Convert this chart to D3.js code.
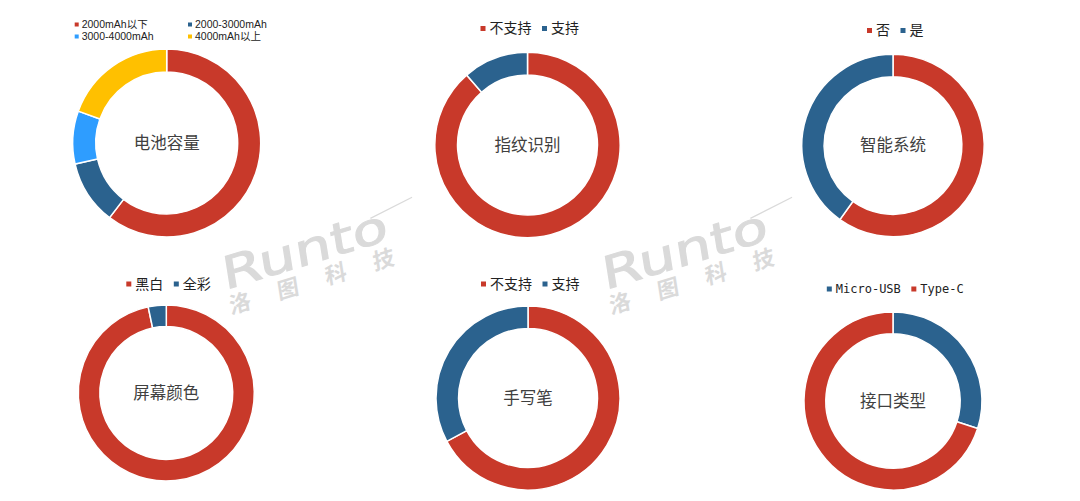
<!DOCTYPE html>
<html><head><meta charset="utf-8">
<script src="https://cdn.jsdelivr.net/npm/d3@7/dist/d3.min.js"></script>
<style>
html,body{margin:0;padding:0;background:#fff;}
svg{display:block;}
</style></head>
<body>
<svg id="c" width="1080" height="501"></svg>
<script>
// ---- data ----
const titles = ["电池容量","指纹识别","智能系统","屏幕颜色","手写笔","接口类型"];
const batteryLabels = ["2000mAh以下","2000-3000mAh","3000-4000mAh","4000mAh以上"];
const batteryValues = [60.4, 11.0, 9.1, 19.5];
const fingerprintLabels = ["不支持","支持"];
const fingerprintValues = [88.6, 11.4];
const smartLabels = ["否","是"];
const smartValues = [59.9, 40.1];
const screenLabels = ["黑白","全彩"];
const screenValues = [96.7, 3.3];
const stylusLabels = ["不支持","支持"];
const stylusValues = [67.2, 32.8];
const portLabels = ["Micro-USB","Type-C"];
const portValues = [30.0, 70.0];

// ---- styles / layout ----
const RED="#C8392A", DBLUE="#2B628E", LBLUE="#2E9DFF", YELLOW="#FFC000";
const charts = [
  {title:titles[0], labels:batteryLabels, values:batteryValues, colors:[RED,DBLUE,LBLUE,YELLOW], cx:166.7, cy:143, r:94, grid:true, ly:24.5},
  {title:titles[1], labels:fingerprintLabels, values:fingerprintValues, colors:[RED,DBLUE], cx:527.5, cy:145, r:92.7, ly:28.5},
  {title:titles[2], labels:smartLabels, values:smartValues, colors:[RED,DBLUE], cx:893, cy:145.5, r:91.2, ly:30.5},
  {title:titles[3], labels:screenLabels, values:screenValues, colors:[RED,DBLUE], cx:166.3, cy:393, r:88, ly:284},
  {title:titles[4], labels:stylusLabels, values:stylusValues, colors:[RED,DBLUE], cx:528, cy:398, r:92, ly:284},
  {title:titles[5], labels:portLabels, values:portValues, colors:[DBLUE,RED], cx:893, cy:401, r:89, ly:289, mono:true}
];
const CJK = "'Noto Sans CJK SC','Microsoft YaHei',sans-serif";

const svg = d3.select("#c");

// ---- watermark ----
function watermark(x, y){
  const g = svg.append("g").attr("transform",`translate(${x},${y}) rotate(-17)`).attr("fill","#dadada");
  g.append("text").text("Runto").attr("x",0).attr("y",0)
    .attr("font-family","'DejaVu Sans',sans-serif").attr("font-size",44).attr("font-weight",400)
    .attr("stroke","#dadada").attr("stroke-width",1)
    .attr("textLength",172).attr("lengthAdjust","spacingAndGlyphs")
    .attr("transform","skewX(-8)");
  g.append("line").attr("x1",160).attr("y1",-26).attr("x2",206).attr("y2",-34)
    .attr("stroke","#dadada").attr("stroke-width",1.2);
  ["洛","图","科","技"].forEach((ch,i)=>{
    g.append("text").text(ch).attr("x",2+i*50).attr("y",25)
      .attr("font-family",CJK).attr("font-size",22).attr("font-weight",700)
      .attr("transform",`skewX(-8)`);
  });
}
watermark(225,290);
watermark(605,290);

// ---- donuts ----
const pie = d3.pie().sort(null).value(d=>d);
charts.forEach(c=>{
  const g = svg.append("g").attr("transform",`translate(${c.cx},${c.cy})`);
  const arc = d3.arc().outerRadius(c.r).innerRadius(c.r*0.755);
  g.selectAll("path").data(pie(c.values)).join("path")
    .attr("d",arc).attr("fill",(d,i)=>c.colors[i])
    .attr("stroke","#fff").attr("stroke-width",1.5);
  g.append("text").text(c.title).attr("text-anchor","middle").attr("dy","0.35em")
    .attr("font-family",CJK).attr("font-size",16.5).attr("fill","#404040");

  // legend
  const lg = svg.append("g");
  if(c.grid){
    const cols=[c.cx-90, c.cx+23.3], rows=[c.ly, c.ly+12];
    c.labels.forEach((lab,i)=>{
      const mx=cols[i%2], my=rows[Math.floor(i/2)];
      lg.append("rect").attr("x",mx-2).attr("y",my-2).attr("width",4).attr("height",4).attr("fill",c.colors[i]);
      lg.append("text").text(lab).attr("x",mx+5).attr("y",my).attr("dy","0.35em")
        .attr("font-family","'Liberation Sans','Noto Sans CJK SC',sans-serif").attr("font-size",10.5).attr("fill","#222");
    });
  } else {
    const items=[]; let x=0;
    c.labels.forEach((lab,i)=>{
      const t = lg.append("text").text(lab).attr("y",c.ly).attr("dy","0.35em")
        .attr("font-family", c.mono ? "'DejaVu Sans Mono',monospace" : CJK)
        .attr("font-size", c.mono ? 12 : 14).attr("fill","#222");
      const w = t.node().getComputedTextLength();
      items.push({t,w,mx:x,i});
      x += 6.5 + w + 13;
    });
    const total = x - 13 + 3;
    const off = c.cx + 2 - total/2 + 3;
    items.forEach(it=>{
      lg.append("rect").attr("x",off+it.mx-2.5).attr("y",c.ly-2.5).attr("width",5).attr("height",5).attr("fill",c.colors[it.i]);
      it.t.attr("x",off+it.mx+6.5);
    });
  }
});
</script>
</body></html>
